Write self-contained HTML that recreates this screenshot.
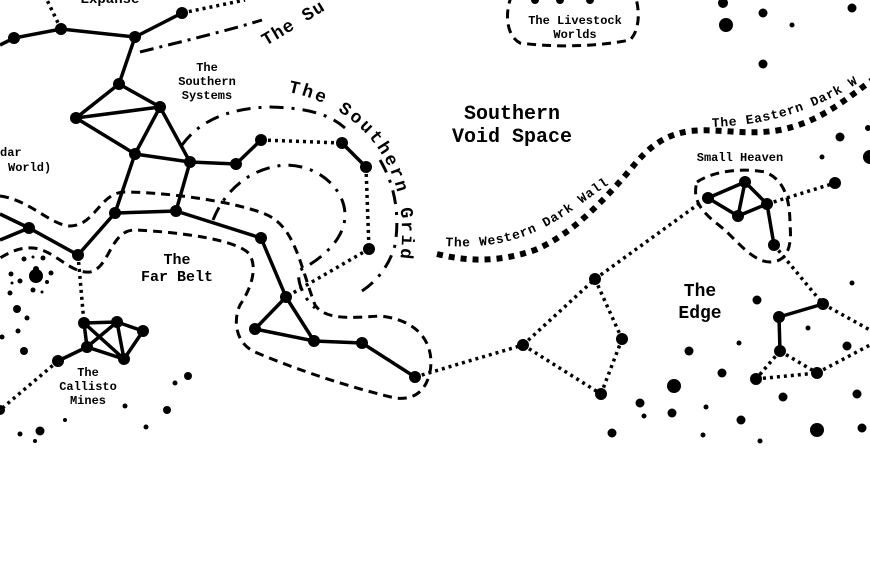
<!DOCTYPE html>
<html><head><meta charset="utf-8"><style>
html,body{margin:0;padding:0;background:#fff;}
svg{display:block;}
text{font-family:"Liberation Mono",monospace;fill:#000;}
</style></head><body>
<svg width="870" height="570" viewBox="0 0 870 570" xmlns="http://www.w3.org/2000/svg">
<defs>
<path id="gridp" d="M288,92 C330,100 370,125 390,170 C405,205 405,245 395,290"/>
<path id="westp" d="M445,246 C510,250 545,230 580,205 C600,190 615,180 635,168"/>
<path id="eastp" d="M712,127 C770,125 820,110 875,72"/>
<path id="supp" d="M266,46 C290,32 315,16 345,-2"/>
</defs>
<g fill="none" stroke="#000">
<path d="M437,254 C470,262 500,262 535,250 C570,235 600,205 630,170 C650,145 665,135 690,131 C720,128 745,136 780,130 C820,122 845,100 875,78" stroke-width="6" stroke-dasharray="6,6"/>
<path d="M0,196 C30,200 50,225 70,226 C95,226 100,192 125,192 C160,192 230,200 265,214 C295,226 300,265 315,305 C325,320 350,318 380,316 C420,320 435,345 430,372 C425,395 410,400 395,398 C340,385 285,365 255,352 C235,343 233,320 240,305 C250,290 258,270 250,255 C240,240 180,232 135,230 C110,230 110,268 90,272 C70,274 55,250 33,248 C20,247 10,252 0,258" stroke-width="3" stroke-dasharray="9,6"/>
<path d="M697,182 C715,170 745,168 765,172 C785,180 790,200 790,225 C792,245 788,262 770,262 C755,262 740,245 725,230 C710,218 690,205 697,182 Z" stroke-width="3" stroke-dasharray="9,6"/>
<path d="M512,-5 C505,10 505,35 520,43 C560,48 600,46 630,40 C640,30 640,10 635,-5" stroke-width="3" stroke-dasharray="9,6"/>
<path d="M140,52 C180,42 230,30 262,20" stroke-width="3" stroke-dasharray="14,6,3,6"/>
<path d="M182,145 C200,120 230,108 270,107 C310,108 330,115 345,128" stroke-width="3" stroke-dasharray="14,8,3,8"/>
<path d="M380,160 C395,185 400,215 395,245 C390,265 375,285 355,295" stroke-width="3" stroke-dasharray="14,8,3,8"/>
<path d="M213,220 C225,190 250,168 285,165 C320,165 345,190 345,215 C345,240 320,260 300,270 C295,280 305,300 315,308" stroke-width="3" stroke-dasharray="14,8,3,8"/>
<g stroke-width="3.5" stroke-dasharray="3,4">
<path d="M182,13 L245,0"/><path d="M61,29 L47,0"/>
<path d="M261,140 L342,143"/><path d="M366,167 L369,249"/><path d="M369,249 L286,297"/>
<path d="M78,255 L84,323"/><path d="M58,361 L0,410"/>
<path d="M415,377 L523,345"/><path d="M523,345 L595,279"/><path d="M595,279 L700,203"/>
<path d="M595,279 L622,339"/><path d="M622,339 L601,394"/><path d="M523,345 L601,394"/>
<path d="M767,204 L835,183"/><path d="M774,245 L823,304"/><path d="M823,304 L870,330"/>
<path d="M780,351 L756,379"/><path d="M756,379 L817,373"/><path d="M780,351 L817,373"/><path d="M817,373 L870,345"/>
</g>
<g stroke-width="3.5">
<path d="M0,45 L14,38 L61,29 L135,37 L182,13"/>
<path d="M135,37 L119,84 L76,118 L160,107 L119,84"/>
<path d="M76,118 L135,154 L160,107 L190,162 L135,154"/>
<path d="M190,162 L236,164 L261,140"/>
<path d="M135,154 L115,213 L176,211 L190,162"/>
<path d="M115,213 L78,255 L29,228 L0,240"/><path d="M29,228 L0,214"/>
<path d="M176,211 L261,238 L286,297 L255,329 L314,341 L286,297"/>
<path d="M314,341 L362,343 L415,377"/><path d="M342,143 L366,167"/>
<path d="M84,323 L117,322 L143,331 L124,359 L87,347 L84,323 L124,359 L117,322 L87,347 L58,361"/>
<path d="M708,198 L745,182 L767,204 L738,216 L708,198"/><path d="M745,182 L738,216"/><path d="M767,204 L774,245"/>
<path d="M823,304 L779,317 L780,351"/>
</g>
</g>
<g fill="#000">
<circle cx="14" cy="38" r="6"/><circle cx="61" cy="29" r="6"/><circle cx="135" cy="37" r="6"/><circle cx="182" cy="13" r="6"/>
<circle cx="119" cy="84" r="6"/><circle cx="76" cy="118" r="6"/><circle cx="160" cy="107" r="6"/><circle cx="135" cy="154" r="6"/>
<circle cx="190" cy="162" r="6"/><circle cx="236" cy="164" r="6"/><circle cx="261" cy="140" r="6"/><circle cx="342" cy="143" r="6"/>
<circle cx="366" cy="167" r="6"/><circle cx="369" cy="249" r="6"/><circle cx="115" cy="213" r="6"/><circle cx="176" cy="211" r="6"/>
<circle cx="261" cy="238" r="6"/><circle cx="78" cy="255" r="6"/><circle cx="29" cy="228" r="6"/><circle cx="286" cy="297" r="6"/>
<circle cx="255" cy="329" r="6"/><circle cx="314" cy="341" r="6"/><circle cx="362" cy="343" r="6"/><circle cx="415" cy="377" r="6"/>
<circle cx="84" cy="323" r="6"/><circle cx="117" cy="322" r="6"/><circle cx="143" cy="331" r="6"/><circle cx="124" cy="359" r="6"/>
<circle cx="87" cy="347" r="6"/><circle cx="58" cy="361" r="6"/><circle cx="0" cy="410" r="5"/>
<circle cx="708" cy="198" r="6"/><circle cx="745" cy="182" r="6"/><circle cx="767" cy="204" r="6"/><circle cx="738" cy="216" r="6"/><circle cx="774" cy="245" r="6"/>
<circle cx="835" cy="183" r="6"/><circle cx="595" cy="279" r="6"/><circle cx="523" cy="345" r="6"/><circle cx="622" cy="339" r="6"/><circle cx="601" cy="394" r="6"/>
<circle cx="823" cy="304" r="6"/><circle cx="779" cy="317" r="6"/><circle cx="780" cy="351" r="6"/><circle cx="756" cy="379" r="6"/><circle cx="817" cy="373" r="6"/>
<circle cx="36" cy="276" r="7"/><circle cx="36" cy="269" r="3"/>
<circle cx="24" cy="259" r="2.5"/><circle cx="33" cy="257" r="1.5"/><circle cx="43" cy="258" r="2.5"/><circle cx="51" cy="273" r="2.5"/>
<circle cx="11" cy="274" r="2.5"/><circle cx="20" cy="281" r="2.5"/><circle cx="47" cy="282" r="2"/><circle cx="33" cy="290" r="2.5"/>
<circle cx="42" cy="292" r="1.5"/><circle cx="10" cy="293" r="2.5"/><circle cx="12" cy="283" r="1.5"/>
<circle cx="17" cy="309" r="4"/><circle cx="27" cy="318" r="2.5"/><circle cx="18" cy="331" r="2.5"/><circle cx="24" cy="351" r="4"/><circle cx="2" cy="337" r="2.5"/>
<circle cx="188" cy="376" r="4"/><circle cx="175" cy="383" r="2.5"/><circle cx="167" cy="410" r="4"/><circle cx="125" cy="406" r="2.5"/>
<circle cx="146" cy="427" r="2.5"/><circle cx="40" cy="431" r="4.5"/><circle cx="20" cy="434" r="2.5"/><circle cx="65" cy="420" r="2"/><circle cx="35" cy="441" r="2"/>
<circle cx="535" cy="0" r="4"/><circle cx="560" cy="0" r="4"/><circle cx="590" cy="0" r="4"/>
<circle cx="723" cy="3" r="5"/><circle cx="763" cy="13" r="4.5"/><circle cx="726" cy="25" r="7"/><circle cx="792" cy="25" r="2.5"/><circle cx="852" cy="8" r="4.5"/>
<circle cx="763" cy="64" r="4.5"/><circle cx="840" cy="137" r="4.5"/><circle cx="822" cy="157" r="2.5"/><circle cx="870" cy="157" r="7"/><circle cx="868" cy="128" r="3"/>
<circle cx="852" cy="283" r="2.5"/><circle cx="757" cy="300" r="4.5"/><circle cx="808" cy="328" r="2.5"/><circle cx="739" cy="343" r="2.5"/>
<circle cx="689" cy="351" r="4.5"/><circle cx="847" cy="346" r="4.5"/><circle cx="722" cy="373" r="4.5"/><circle cx="674" cy="386" r="7"/>
<circle cx="783" cy="397" r="4.5"/><circle cx="857" cy="394" r="4.5"/><circle cx="640" cy="403" r="4.5"/><circle cx="644" cy="416" r="2.5"/>
<circle cx="672" cy="413" r="4.5"/><circle cx="706" cy="407" r="2.5"/><circle cx="741" cy="420" r="4.5"/><circle cx="817" cy="430" r="7"/>
<circle cx="862" cy="428" r="4.5"/><circle cx="612" cy="433" r="4.5"/><circle cx="703" cy="435" r="2.5"/><circle cx="760" cy="441" r="2.5"/>
</g>
<g font-size="12" text-anchor="middle" font-weight="bold">
<text x="207" y="71">The</text><text x="207" y="85">Southern</text><text x="207" y="99">Systems</text>
<text x="88" y="376">The</text><text x="88" y="390">Callisto</text><text x="88" y="404">Mines</text>
<text x="575" y="24">The Livestock</text><text x="575" y="38">Worlds</text>
<text x="740" y="161">Small Heaven</text>
<text x="110" y="3" font-size="14">Expanse</text>
</g>
<g font-size="12" font-weight="bold"><text x="0" y="156">dar</text><text x="8" y="171">World)</text></g>
<g font-size="15" font-weight="bold" text-anchor="middle">
<text x="177" y="264">The</text><text x="177" y="281">Far Belt</text>
</g>
<g font-size="20" font-weight="bold" text-anchor="middle">
<text x="512" y="119">Southern</text><text x="512" y="142">Void Space</text>
</g>
<g font-size="18" font-weight="bold" text-anchor="middle">
<text x="700" y="296">The</text><text x="700" y="318">Edge</text>
</g>
<text font-size="18" font-weight="bold" letter-spacing="2.5"><textPath href="#gridp">The Southern Grid</textPath></text>
<text font-size="18" font-weight="bold" letter-spacing="1"><textPath href="#supp">The Su</textPath></text>
<text font-size="13" font-weight="bold" letter-spacing="0.8"><textPath href="#westp">The Western Dark Wall</textPath></text>
<text font-size="13" font-weight="bold" letter-spacing="0.8"><textPath href="#eastp">The Eastern Dark W</textPath></text>
</svg>
</body></html>
